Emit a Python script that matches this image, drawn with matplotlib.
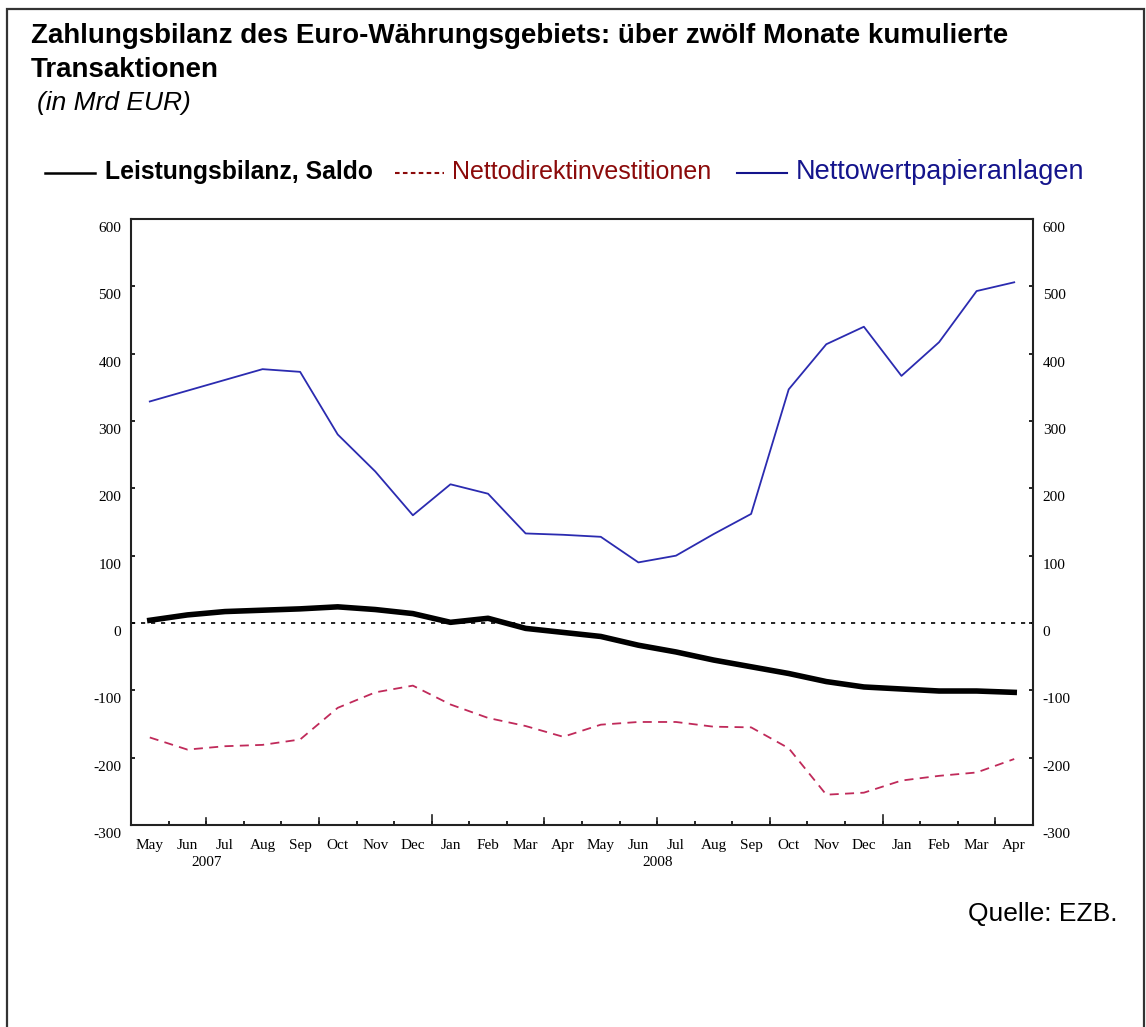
import matplotlib
matplotlib.use("Agg")
import matplotlib.pyplot as plt
from matplotlib.lines import Line2D
from matplotlib.patches import Rectangle
from matplotlib.transforms import ScaledTranslation

# ---------------- data ----------------
months = ["May", "Jun", "Jul", "Aug", "Sep", "Oct", "Nov", "Dec",
          "Jan", "Feb", "Mar", "Apr", "May", "Jun", "Jul", "Aug",
          "Sep", "Oct", "Nov", "Dec", "Jan", "Feb", "Mar", "Apr"]
year_labels = ["2007", "2008"]
year_label_pos = [1.5, 13.5]

leistungsbilanz = [4, 12, 17, 19, 21, 24, 20, 14, 1, 7, -8, -14,
                   -20, -33, -43, -55, -65, -75, -87, -95, -98, -101, -101, -103]
direktinvest = [-170, -188, -183, -181, -173, -126, -103, -93, -121, -141, -153, -169,
                -151, -147, -147, -154, -155, -186, -255, -252, -234, -227, -222, -202]
wertpapier = [329, 345, 361, 377, 373, 280, 225, 160, 206, 192, 133, 131,
              128, 90, 100, 132, 162, 347, 414, 440, 367, 417, 493, 506]

yticks = [-300, -200, -100, 0, 100, 200, 300, 400, 500, 600]

# ---------------- figure ----------------
W, H = 1146, 1027
fig = plt.figure(figsize=(W / 100, H / 100), dpi=100)
fig.patch.set_facecolor("white")

def fx(px):
    return px / W

def fy(py):
    return 1 - py / H

# outer border
fig.add_artist(Rectangle((fx(7), -0.01), fx(1144) - fx(7), fy(9) + 0.01,
                         transform=fig.transFigure, fill=False,
                         edgecolor="#333333", linewidth=1.6))

ax = fig.add_axes([fx(131), fy(825), fx(1033) - fx(131), fy(219) - fy(825)])

x = list(range(len(months)))
ax.axhline(0, color="black", lw=1.2, linestyle=(0, (2.5, 3.5)), zorder=1)
ax.plot(x, wertpapier, color="#2B2BB0", lw=1.3, zorder=2)
ax.plot(x, direktinvest, color="#C02A5A", lw=1.3, linestyle=(0, (5, 3.5)), zorder=2)
ax.plot(x, leistungsbilanz, color="black", lw=4.0, zorder=3)

ax.set_xlim(-0.5, len(months) - 0.5)
ax.set_ylim(-300, 600)

for s in ax.spines.values():
    s.set_color("#222222")
    s.set_linewidth(1.5)

serif = "Liberation Serif"

# y axis both sides
ax.set_yticks(yticks)
ax.set_yticklabels([str(v) for v in yticks])
ax.tick_params(axis="y", direction="in", length=3, width=1.2, left=True, right=True,
               labelleft=True, labelright=True, pad=7, labelsize=11)
offset = ScaledTranslation(0, -8 / 100, fig.dpi_scale_trans)
for t in ax.yaxis.get_major_ticks():
    t.label1.set_transform(t.label1.get_transform() + offset)
    t.label2.set_transform(t.label2.get_transform() + offset)
    t.label1.set_fontfamily(serif)
    t.label2.set_fontfamily(serif)

# x axis: labels at month centers, boundary ticks
ax.set_xticks(x)
ax.set_xticklabels(months, fontfamily=serif, fontsize=11)
ax.tick_params(axis="x", which="major", length=0, pad=10)
bounds = [i + 0.5 for i in range(len(months) - 1)]
ax.set_xticks(bounds, minor=True)
ax.tick_params(axis="x", which="minor", direction="in", length=3, width=1.2)

trans = ax.get_xaxis_transform()
axh_px = 825 - 219
for b in bounds:
    k = int(b - 0.5)  # boundary after month k
    if (k + 1) % 12 == 8:       # year boundary (Dec/Jan)
        L = 10
    elif (k + 1) % 3 == 2:      # quarter boundary
        L = 7
    else:
        L = 0
    if L:
        ax.plot([b, b], [0, L / axh_px], transform=trans, color="#222222",
                lw=1.2, clip_on=False, zorder=4)

for lbl, pos in zip(year_labels, year_label_pos):
    ax.text(pos, -37 / axh_px, lbl, transform=trans, ha="center", va="center",
            fontfamily=serif, fontsize=11)

# ---------------- titles ----------------
sans = "Liberation Sans"
fig.text(fx(31), fy(36), "Zahlungsbilanz des Euro-Währungsgebiets: über zwölf Monate kumulierte",
         fontfamily=sans, fontweight="bold", fontsize=20, ha="left", va="center")
fig.text(fx(31), fy(70), "Transaktionen",
         fontfamily=sans, fontweight="bold", fontsize=20, ha="left", va="center")
fig.text(fx(37), fy(103), "(in Mrd EUR)",
         fontfamily=sans, style="italic", fontsize=19, ha="left", va="center")

# ---------------- legend ----------------
ly = fy(173)
fig.add_artist(Line2D([fx(45), fx(95)], [ly, ly], transform=fig.transFigure,
                      color="black", lw=1.8))
fig.text(fx(105), fy(172), "Leistungsbilanz, Saldo", fontfamily=sans, fontweight="bold",
         fontsize=17.8, ha="left", va="center", color="black")
fig.add_artist(Line2D([fx(395), fx(444)], [ly, ly], transform=fig.transFigure,
                      color="#8B0A0A", lw=1.5, linestyle=(0, (2.2, 1.6))))
fig.text(fx(452), fy(172), "Nettodirektinvestitionen", fontfamily=sans,
         fontsize=18, ha="left", va="center", color="#8B0A0A")
fig.add_artist(Line2D([fx(737), fx(787)], [ly, ly], transform=fig.transFigure,
                      color="#14148C", lw=1.5))
fig.text(fx(796), fy(172), "Nettowertpapieranlagen", fontfamily=sans,
         fontsize=19.5, ha="left", va="center", color="#14148C")

# ---------------- source ----------------
fig.text(fx(1118), fy(914), "Quelle: EZB.", fontfamily=sans, fontsize=19,
         ha="right", va="center", color="black")

fig.savefig("out.png", dpi=100, facecolor="white")
